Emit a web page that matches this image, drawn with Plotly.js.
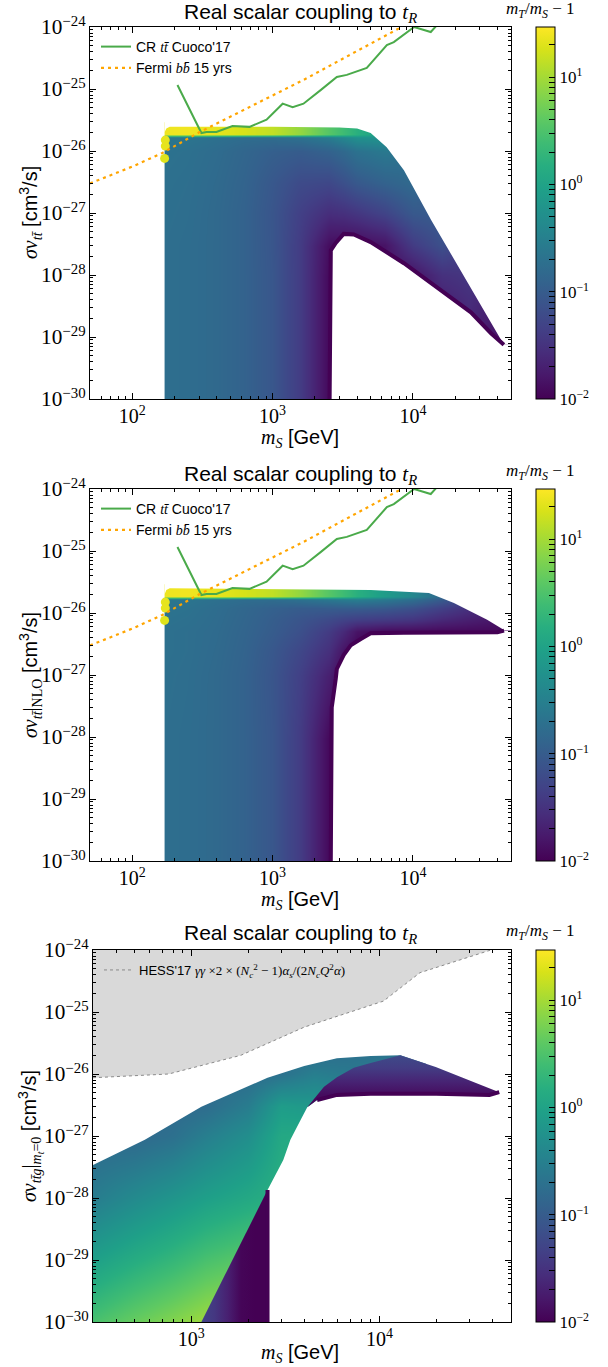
<!DOCTYPE html>
<html><head><meta charset="utf-8">
<script src="https://cdn.plot.ly/plotly-3.0.1.min.js"></script>
<style>html,body{margin:0;padding:0;background:#fff}</style>
</head><body><div id="chart" style="width:608px;height:1367px"></div>
<script>
// ---------------- DATA ----------------
// colour quantity: mT/mS - 1
const cbMax = 29.3;
// Cosmic-ray limit CR ttbar Cuoco'17 (panels 1,2)
const crMass  = [210, 311, 338, 398, 518, 685, 906, 1180, 1390, 1660, 2200, 2870, 3380, 4690, 6520, 7310, 10200, 13400, 15000];
const crSigma = [1.16e-25, 1.95e-26, 2.03e-26, 2.03e-26, 2.52e-26, 2.45e-26, 3.2e-26, 5.8e-26, 5.1e-26, 5.8e-26, 9.6e-26, 1.56e-25, 1.69e-25, 2.19e-25, 5.1e-25, 5.7e-25, 1.0e-24, 8.3e-25, 1.1e-24];
// Fermi bbbar 15 yrs (panels 1,2)
const fermiMass  = [50, 100, 164, 300, 1660, 8300];
const fermiSigma = [3.0e-27, 5.6e-27, 9.3e-27, 2.0e-26, 1.4e-25, 1.0e-24];
// HESS'17 gamma-gamma (panel 3)
const hessMass  = [300, 757, 1830, 3980, 10500, 16400, 37500, 41000];
const hessSigma = [8.7e-27, 1.0e-26, 2.0e-26, 5.7e-26, 1.5e-25, 4.3e-25, 9.6e-25, 1.05e-24];

// Panel 1 scan region: upper boundary, lower (hole) boundary
const p1TopMass  = [170, 175, 185, 1000, 3000, 4000, 5000, 6500, 8630, 13450, 43500, 44500];
const p1TopSigma = [2.0e-26, 2.3e-26, 2.45e-26, 2.45e-26, 2.4e-26, 2.3e-26, 1.95e-26, 1.15e-26, 4.9e-27, 7.8e-28, 8.5e-30, 7.5e-30];
const p1HoleMass  = [2550, 2560, 2600, 2820, 3210, 3790, 5000, 8630, 14800, 25900, 36000, 43200, 44500];
const p1HoleSigma = [1e-30, 1e-29, 2.5e-28, 3.3e-28, 4.6e-28, 4.5e-28, 3.4e-28, 1.55e-28, 6.4e-29, 2.5e-29, 1.15e-29, 7.7e-30, 7.5e-30];
// colour grid of panel 1 (rows = sigma v, columns = mS)
const p1GridMass  = [170, 250, 400, 630, 1000, 1600, 2500, 3200, 4000, 6300, 10000, 16000, 25000, 45000];
const p1GridSigma = [1e-30, 1e-29, 1e-28, 3e-28, 1e-27, 3e-27, 1e-26, 1.65e-26, 1.85e-26, 2.5e-26];
const p1Ratio = [
 [0.18,0.17,0.15,0.12,0.085,0.04,0.012,0.01,0.01,0.01,0.01,0.01,0.01,0.012],
 [0.18,0.17,0.15,0.12,0.085,0.04,0.012,0.01,0.01,0.01,0.01,0.012,0.02,0.015],
 [0.18,0.17,0.15,0.12,0.085,0.04,0.012,0.01,0.01,0.012,0.015,0.03,0.035,0.02],
 [0.18,0.17,0.15,0.12,0.083,0.04,0.013,0.012,0.012,0.015,0.04,0.07,0.04,0.02],
 [0.185,0.175,0.15,0.12,0.082,0.045,0.028,0.03,0.035,0.05,0.09,0.1,0.05,0.02],
 [0.19,0.18,0.155,0.125,0.088,0.06,0.055,0.07,0.09,0.12,0.15,0.1,0.05,0.02],
 [0.2,0.19,0.165,0.135,0.11,0.1,0.12,0.15,0.2,0.25,0.2,0.1,0.05,0.02],
 [0.24,0.22,0.19,0.17,0.17,0.2,0.28,0.4,0.55,0.6,0.3,0.1,0.05,0.02],
 [24,25,22,18,14,8,3.6,2.4,1.6,0.8,0.3,0.1,0.05,0.02],
 [24,25,22,18,14,8,3.6,2.4,1.6,0.8,0.3,0.1,0.05,0.02]
];
// yellow hook at the low-mass corner (panels 1,2)
const hookMass  = [172, 172, 170];
const hookSigma = [1.5e-26, 1.2e-26, 7.6e-27];
const hookRatio = [22, 22, 20];

// Panel 2 (NLO)
const p2TopMass  = [170, 175, 185, 5000, 13000, 19600, 33800, 44600];
const p2TopSigma = [2.0e-26, 2.35e-26, 2.5e-26, 2.35e-26, 2.1e-26, 1.45e-26, 7.8e-27, 5.3e-27];
const p2HoleMass  = [2600, 2610, 2640, 2820, 2870, 3210, 3600, 4250, 5000, 8630, 25900, 40000, 44600];
const p2HoleSigma = [1e-30, 1e-29, 3e-28, 8.7e-28, 1.25e-27, 2.1e-27, 3.0e-27, 3.8e-27, 4.7e-27, 4.8e-27, 4.8e-27, 4.9e-27, 5.2e-27];
const p2GridMass  = [170, 250, 400, 630, 1000, 1600, 2500, 3200, 4000, 6300, 10000, 16000, 25000, 45000];
const p2GridSigma = [1e-30, 1e-29, 1e-28, 1e-27, 2.5e-27, 5e-27, 8e-27, 1.2e-26, 1.65e-26, 1.85e-26, 2.5e-26];
const p2Ratio = [
 [0.18,0.17,0.15,0.12,0.085,0.04,0.012,0.01,0.01,0.01,0.01,0.01,0.01,0.01],
 [0.18,0.17,0.15,0.12,0.085,0.04,0.012,0.01,0.01,0.01,0.01,0.01,0.01,0.01],
 [0.18,0.17,0.15,0.12,0.085,0.04,0.012,0.01,0.01,0.01,0.01,0.01,0.01,0.01],
 [0.185,0.175,0.15,0.12,0.082,0.045,0.02,0.01,0.01,0.01,0.01,0.01,0.01,0.01],
 [0.19,0.18,0.155,0.125,0.088,0.055,0.03,0.015,0.01,0.01,0.01,0.01,0.01,0.01],
 [0.19,0.18,0.16,0.13,0.1,0.07,0.04,0.025,0.015,0.012,0.012,0.012,0.012,0.012],
 [0.2,0.19,0.165,0.135,0.105,0.08,0.06,0.05,0.045,0.04,0.035,0.025,0.02,0.015],
 [0.21,0.2,0.17,0.14,0.115,0.1,0.1,0.1,0.1,0.09,0.07,0.045,0.03,0.02],
 [0.24,0.22,0.19,0.17,0.17,0.2,0.25,0.28,0.3,0.25,0.18,0.1,0.05,0.03],
 [24,25,22,18,14,8,3.6,2.4,1.6,0.8,0.4,0.15,0.08,0.04],
 [24,25,22,18,14,8,3.6,2.4,1.6,0.8,0.4,0.15,0.08,0.04]
];

// Panel 3 (m_t = 0, ttg)
const p3TopMass  = [300, 566, 1130, 2540, 3980, 5940, 8970, 12900, 19900, 30100, 43300];
const p3TopSigma = [3.4e-28, 8.7e-28, 2.95e-27, 8.7e-27, 1.35e-26, 1.8e-26, 1.95e-26, 2.0e-26, 1.3e-26, 7.9e-27, 5.1e-27];
const p3LowMass  = [2540, 2540, 3080, 3360, 3800, 4130, 4660, 5940, 8970, 20000, 38400, 43300];
const p3LowSigma = [1e-30, 1.35e-28, 4.1e-28, 8.7e-28, 1.8e-27, 2.9e-27, 3.8e-27, 4.6e-27, 4.8e-27, 4.8e-27, 4.6e-27, 5.1e-27];
const p3GridMass  = [300, 500, 800, 1200, 2000, 3000, 4500, 7000, 13000];
const p3GridSigma = [1e-30, 1e-29, 1e-28, 1e-27, 3e-27, 1e-26, 2e-26];
const p3Ratio = [
 [2.9, 4.6, 6.6, 9.3, 12, 14, 14, 14, 14],
 [0.9, 1.4, 2.0, 2.9, 3.9, 5, 5, 5, 5],
 [0.28,0.44,0.63,0.88,1.2,1.6,2,2,2],
 [0.15,0.15,0.19,0.3,0.5,1.2,1.3,1,1],
 [0.15,0.15,0.15,0.17,0.28,0.8,0.7,0.6,0.5],
 [0.15,0.15,0.15,0.15,0.16,0.2,0.3,0.25,0.3],
 [0.15,0.15,0.15,0.15,0.15,0.16,0.18,0.2,0.22]
];
// heavy-mass arm (upper right) of panel 3
const armMass  = [4130, 5070, 5940, 7300, 8970, 12900, 19900, 30100, 43300, 38400, 20000, 8970, 5940, 4660];
const armSigma = [2.9e-27, 6.2e-27, 8.9e-27, 1.26e-26, 1.5e-26, 2.0e-26, 1.3e-26, 7.9e-27, 5.1e-27, 4.6e-27, 4.8e-27, 4.8e-27, 4.6e-27, 3.8e-27];
const armRatioBottomToTop = [0.010, 0.013, 0.022, 0.04, 0.06];
// low-sigma wedge of panel 3
const wedgeMass  = [1130, 2540, 2540];
const wedgeSigma = [1e-30, 1.35e-28, 1e-30];
const wedgeRatioLeftToRight = [0.05, 0.035, 0.02, 0.011, 0.01, 0.01];

// ---------------- STYLE / HELPERS ----------------
const VIRIDIS = [[0,'#440154'],[0.06274509803921569,'#48186a'],[0.12549019607843137,'#472d7b'],[0.18823529411764706,'#424086'],[0.25098039215686274,'#3b528b'],[0.3137254901960784,'#33638d'],[0.3764705882352941,'#2c728e'],[0.4392156862745098,'#26828e'],[0.5019607843137255,'#21918c'],[0.5647058823529412,'#1fa088'],[0.6274509803921569,'#28ae80'],[0.6901960784313725,'#3fbc73'],[0.7529411764705882,'#5ec962'],[0.8156862745098039,'#84d44b'],[0.8784313725490196,'#addc30'],[0.9411764705882353,'#d8e219'],[1,'#fde725']];
const ZMIN = -2, ZMAX = Math.log10(cbMax);
function hex2rgb(h){return [parseInt(h.substr(1,2),16),parseInt(h.substr(3,2),16),parseInt(h.substr(5,2),16)];}
function vcol(v){
  let t = (Math.log10(v)-ZMIN)/(ZMAX-ZMIN); t=Math.max(0,Math.min(1,t));
  for(let i=1;i<VIRIDIS.length;i++){
    if(t<=VIRIDIS[i][0]){
      const a=VIRIDIS[i-1], b=VIRIDIS[i]; const f=(t-a[0])/(b[0]-a[0]);
      const ca=hex2rgb(a[1]), cb=hex2rgb(b[1]);
      return 'rgb('+ca.map((c,k)=>Math.round(c+(cb[k]-c)*f)).join(',')+')';
    }
  }
  return VIRIDIS[VIRIDIS.length-1][1];
}
const L=90, R=511, T=27, B=1322;
const xp = px => (px-L)/(R-L);
const yp = py => (B-py)/(B-T);
const SERIF = 'Liberation Serif', SANS = 'Liberation Sans';
const sv = s => '<span style="font-family:'+SERIF+'">'+s+'</span>';

const lg = Math.log10;
const X12 = [lg(50), lg(50000)], X3 = [lg(300), lg(50000)], YR = [-30, -24];
const panels = [
  {dom:[yp(399), yp(27)], xdom:[0,1], xr:X12},
  {dom:[yp(861), yp(489)], xdom:[0,1], xr:X12},
  {dom:[yp(1322), yp(950)], xdom:[xp(93),1], xr:X3}
];

// colorbar ticks
const cbVals=[], cbText=[];
[0.01,0.1,1,10].forEach((d,i)=>{
  for(let k=1;k<=9;k++){ const v=d*k; if(v>cbMax) break; cbVals.push(lg(v)); cbText.push(k===1?('10<sup>'+['−2','−1','0','1'][i]+'</sup>'):''); }
});
function heat(gx, gy, gz, ax, pi){
  const p = panels[pi];
  return {type:'heatmap', x:gx.map(lg), y:gy.map(lg), z:gz.map(r=>r.map(lg)),
    xaxis:'x'+(ax===1?'':ax), yaxis:'y'+(ax===1?'':ax),
    colorscale:VIRIDIS, zmin:ZMIN, zmax:ZMAX, zsmooth:'best', hoverinfo:'skip',
    showscale:true,
    colorbar:{x:xp(536), xanchor:'left', y:(p.dom[0]+p.dom[1])/2, yanchor:'middle',
      len:p.dom[1]-p.dom[0], lenmode:'fraction', thickness:19, thicknessmode:'pixels',
      outlinewidth:1, outlinecolor:'#000', xpad:0, ypad:0, ticks:'inside', ticklen:6,
      tickcolor:'#000', tickvals:cbVals, ticktext:cbText,
      tickfont:{family:SERIF, size:17, color:'#000'}, title:{text:''}}};
}
function mask(xs, ys, ax){
  return {type:'scatter', mode:'lines', x:xs, y:ys, fill:'toself', fillcolor:'#ffffff',
    line:{width:0, color:'#ffffff'}, xaxis:'x'+ax, yaxis:'y'+ax, hoverinfo:'skip', showlegend:false};
}
function edge(xs, ys, ax){
  return {type:'scatter', mode:'lines', x:xs, y:ys, line:{width:4, color:vcol(0.01)},
    xaxis:'x'+ax, yaxis:'y'+ax, hoverinfo:'skip', showlegend:false};
}

const data = [];
data.push(heat(p1GridMass, p1GridSigma, p1Ratio, 1, 0));
data.push(heat(p2GridMass, p2GridSigma, p2Ratio, 2, 1));
data.push(heat(p3GridMass, p3GridSigma, p3Ratio, 3, 2));

// panel 1 & 2 overlays
[[4, p1TopMass, p1TopSigma, p1HoleMass, p1HoleSigma, 'legend'], [5, p2TopMass, p2TopSigma, p2HoleMass, p2HoleSigma, 'legend2']].forEach(([ax, tm, ts, hm, hs, leg])=>{
  data.push(mask([30,170,170,30],[1e-31,1e-31,1e-23,1e-23], ax));
  data.push(mask([170].concat(tm,[60000,60000,170]), [1e-23].concat(ts,[ts[ts.length-1],1e-23,1e-23]), ax));
  data.push(mask([hm[0]].concat(hm,[60000,60000]), [1e-31].concat(hs,[hs[hs.length-1],1e-31]), ax));
  data.push(edge(hm, hs, ax));
  data.push({type:'scatter', mode:'markers', x:hookMass, y:hookSigma,
    marker:{size:9, color:hookRatio.map(vcol), line:{width:0}}, xaxis:'x'+ax, yaxis:'y'+ax, hoverinfo:'skip', showlegend:false});
  data.push({type:'scatter', mode:'lines', name:'CR '+sv('<i>tt̄</i>')+' Cuoco\'17', x:crMass, y:crSigma,
    line:{color:'#4aaa4a', width:2}, xaxis:'x'+ax, yaxis:'y'+ax, legend:leg, hoverinfo:'skip'});
  data.push({type:'scatter', mode:'lines', name:'Fermi '+sv('<i>bb̄</i>')+' 15 yrs', x:fermiMass, y:fermiSigma,
    line:{color:'#ffa500', width:2.2, dash:'3px,4px'}, xaxis:'x'+ax, yaxis:'y'+ax, legend:leg, hoverinfo:'skip'});
});

// panel 3 overlays
data.push(mask([250,250].concat(p3TopMass,[60000,60000]), [1e-23,p3TopSigma[0]].concat(p3TopSigma,[p3TopSigma[p3TopSigma.length-1],1e-23]), 6));
data.push(mask([p3LowMass[0]].concat(p3LowMass,[60000,60000]), [1e-31].concat(p3LowSigma,[p3LowSigma[p3LowSigma.length-1],1e-31]), 6));
data.push({type:'scatter', mode:'lines', x:armMass, y:armSigma, fill:'toself', fillcolor:vcol(0.02),
  fillgradient:{type:'vertical', colorscale:armRatioBottomToTop.map((v,i)=>[i/(armRatioBottomToTop.length-1), vcol(v)])},
  line:{width:0}, xaxis:'x6', yaxis:'y6', hoverinfo:'skip', showlegend:false});
data.push({type:'scatter', mode:'lines', x:wedgeMass, y:wedgeSigma, fill:'toself', fillcolor:vcol(0.02),
  fillgradient:{type:'horizontal', colorscale:wedgeRatioLeftToRight.map((v,i)=>[i/(wedgeRatioLeftToRight.length-1), vcol(v)])},
  line:{width:0}, xaxis:'x6', yaxis:'y6', hoverinfo:'skip', showlegend:false});
data.push(edge([2540,2540],[1e-30,1.35e-28],6));
data.push(edge(armMass.slice(8).reverse(), armSigma.slice(8).reverse(), 6));
data.push({type:'scatter', mode:'lines', x:hessMass.concat([50000,300]), y:hessSigma.concat([1e-24,1e-24]),
  fill:'toself', fillcolor:'#d9d9d9', line:{width:0}, xaxis:'x6', yaxis:'y6', hoverinfo:'skip', showlegend:false});
data.push({type:'scatter', mode:'lines', x:hessMass, y:hessSigma,
  name:'HESS\'17 '+sv('<i>γγ</i> ×2 × (<i>N</i><sub><i>c</i></sub><sup>2</sup> − 1)<i>α</i><sub><i>s</i></sub>/(2<i>N</i><sub><i>c</i></sub><i>Q</i><sup>2</sup><i>α</i>)'),
  line:{color:'#8a8a8a', width:1, dash:'dot'}, xaxis:'x6', yaxis:'y6', legend:'legend3', hoverinfo:'skip'});

// ---------------- LAYOUT ----------------
const layout = {width:608, height:1367, margin:{l:L, r:608-R, t:T, b:1367-B},
  paper_bgcolor:'#fff', plot_bgcolor:'rgba(0,0,0,0)', showlegend:true, annotations:[]};
const visAxis = {showline:true, linecolor:'#000', linewidth:1, mirror:'allticks', ticks:'inside', ticklen:6,
  tickwidth:1, tickcolor:'#000', showgrid:false, zeroline:false, exponentformat:'power', dtick:1,
  minor:{ticks:'inside', ticklen:3, tickcolor:'#000', dtick:'D1', showgrid:false},
  tickfont:{family:SERIF, size:17, color:'#000'}, fixedrange:true};
panels.forEach((p,i)=>{
  const b = i+1, o = i+4;
  layout['xaxis'+(b===1?'':b)] = {domain:p.xdom, range:p.xr, anchor:'y'+(b===1?'':b), visible:false, fixedrange:true};
  layout['yaxis'+(b===1?'':b)] = {domain:p.dom, range:YR, anchor:'x'+(b===1?'':b), visible:false, fixedrange:true};
  layout['xaxis'+o] = Object.assign({}, visAxis, {type:'log', overlaying:'x'+(b===1?'':b), anchor:'y'+o, range:p.xr,
    tickfont:{family:SERIF, size:16, color:'#000'}});
  layout['yaxis'+o] = Object.assign({}, visAxis, {type:'log', overlaying:'y'+(b===1?'':b), anchor:'x'+o, range:YR});
});
const legBase = {xanchor:'left', yanchor:'top', bgcolor:'rgba(0,0,0,0)', borderwidth:0,
  font:{family:SANS, size:14, color:'#000'}, itemwidth:30, tracegroupgap:0};
layout.legend  = Object.assign({}, legBase, {x:xp(96), y:yp(31)});
layout.legend2 = Object.assign({}, legBase, {x:xp(96), y:yp(493)});
layout.legend3 = Object.assign({}, legBase, {x:xp(99), y:yp(955), font:{family:SANS, size:13, color:'#000'}});

const titleY = [13, 475, 934], cbTitleY = [10, 472, 932], xTitleY = [438, 900, 1353];
const yTitles = [
  sv('<i>σv</i><sub><i>tt̄</i></sub>')+' [cm<sup>3</sup>/s]',
  sv('<i>σv</i><sub><i>tt̄</i></sub>|<sub>NLO</sub>')+' [cm<sup>3</sup>/s]',
  sv('<i>σv</i><sub><i>tt̄g</i></sub>|<sub><i>m<sub>t</sub></i>=0</sub>')+' [cm<sup>3</sup>/s]'
];
panels.forEach((p,i)=>{
  layout.annotations.push({xref:'paper', yref:'paper', x:0.5, y:yp(titleY[i]), xanchor:'center', yanchor:'middle',
    showarrow:false, text:'Real scalar coupling to '+sv('<i>t</i><sub><i>R</i></sub>'), font:{family:SANS, size:21, color:'#000'}});
  layout.annotations.push({xref:'paper', yref:'paper', x:xp(540), y:yp(cbTitleY[i]), xanchor:'center', yanchor:'middle',
    showarrow:false, text:'<i>m</i><sub><i>T</i></sub>/<i>m</i><sub><i>S</i></sub> − 1', font:{family:SERIF, size:17, color:'#000'}});
  layout.annotations.push({xref:'paper', yref:'paper', x:xp(300), y:yp(xTitleY[i]), xanchor:'center', yanchor:'middle',
    showarrow:false, text:sv('<i>m</i><sub><i>S</i></sub>')+' [GeV]', font:{family:SANS, size:20, color:'#000'}});
  layout.annotations.push({xref:'paper', yref:'paper', x:xp(30), y:(p.dom[0]+p.dom[1])/2, xanchor:'center', yanchor:'middle',
    textangle:-90, showarrow:false, text:yTitles[i], font:{family:SANS, size:20, color:'#000'}});
});

Plotly.newPlot('chart', data, layout, {staticPlot:true, displayModeBar:false});
</script></body></html>
